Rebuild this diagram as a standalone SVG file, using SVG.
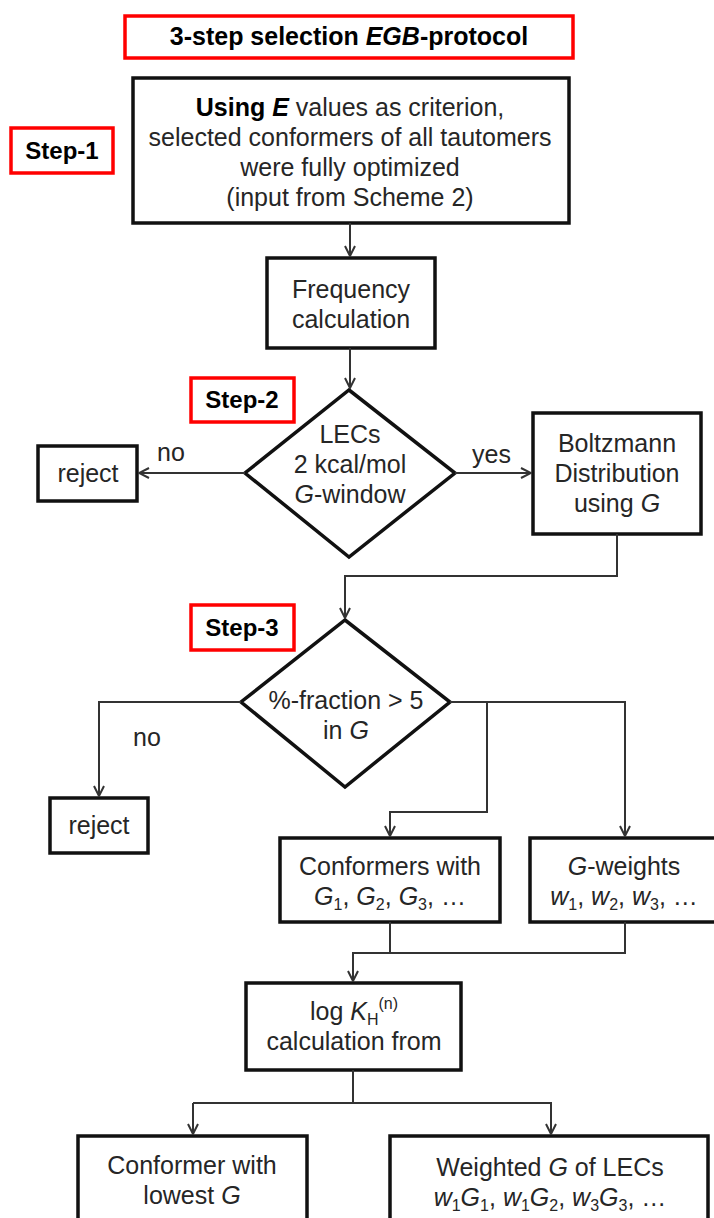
<svg xmlns="http://www.w3.org/2000/svg" width="714" height="1218" viewBox="0 0 714 1218">
  <defs>
    <marker id="arr" viewBox="0 0 12 12" markerWidth="12" markerHeight="12" refX="11" refY="6" orient="auto" markerUnits="userSpaceOnUse">
      <path d="M1,1 L11,6 L1,11" fill="none" stroke="#333" stroke-width="2"/>
    </marker>
  </defs>
  <style>
    .box{fill:#fff;stroke:#111;stroke-width:3.5}
    .red{fill:#fff;stroke:#f00;stroke-width:3.5}
    .t{font-family:"Liberation Sans",Arial,sans-serif;font-size:25px;fill:#262626;text-anchor:middle}
    .b{font-weight:bold;fill:#000}
    .s{font-family:"Liberation Sans",Arial,sans-serif;font-size:24px;font-weight:bold;fill:#000;text-anchor:middle}
    .lbl{font-family:"Liberation Sans",Arial,sans-serif;font-size:25px;fill:#262626}
    .c{fill:none;stroke:#333;stroke-width:2}
    .i{font-style:italic}
  </style>

  <g id="title">
    <rect class="red" x="125" y="16" width="448" height="42"/>
    <text class="t b" x="349" y="45">3-step selection <tspan class="i">EGB</tspan>-protocol</text>
  </g>

  <g id="step1">
    <rect class="red" x="11" y="128" width="102" height="45"/>
    <text class="s" x="62" y="159">Step-1</text>
  </g>

  <g id="optimize">
    <rect class="box" x="133" y="78" width="436" height="145"/>
    <text class="t" x="350" y="116"><tspan class="b">Using <tspan class="i">E</tspan></tspan> values as criterion,</text>
    <text class="t" x="350" y="146">selected conformers of all tautomers</text>
    <text class="t" x="350" y="176">were fully optimized</text>
    <text class="t" x="350" y="206">(input from Scheme 2)</text>
  </g>

  <g id="frequency">
    <rect class="box" x="267" y="258" width="168" height="90"/>
    <text class="t" x="351" y="298">Frequency</text>
    <text class="t" x="351" y="328">calculation</text>
  </g>

  <g id="step2">
    <rect class="red" x="191" y="378" width="103" height="44"/>
    <text class="s" x="242" y="408">Step-2</text>
  </g>

  <g id="decision1">
    <polygon class="box" points="349,390 455,473 349,557 245,473"/>
    <text class="t" x="350" y="443">LECs</text>
    <text class="t" x="350" y="473">2 kcal/mol</text>
    <text class="t" x="350" y="503"><tspan class="i">G</tspan>-window</text>
  </g>

  <g id="reject1">
    <rect class="box" x="38" y="446" width="99" height="55"/>
    <text class="t" x="88" y="482">reject</text>
  </g>

  <g id="boltzmann">
    <rect class="box" x="533" y="413" width="168" height="121"/>
    <text class="t" x="617" y="452">Boltzmann</text>
    <text class="t" x="617" y="482">Distribution</text>
    <text class="t" x="617" y="512">using <tspan class="i">G</tspan></text>
  </g>

  <g id="step3">
    <rect class="red" x="191" y="605" width="103" height="45"/>
    <text class="s" x="242" y="636">Step-3</text>
  </g>

  <g id="decision2">
    <polygon class="box" points="345,620 450,702 345,787 241,702"/>
    <text class="t" x="346" y="709">%-fraction &gt; 5</text>
    <text class="t" x="346" y="739">in <tspan class="i">G</tspan></text>
  </g>

  <g id="reject2">
    <rect class="box" x="50" y="798" width="98" height="55"/>
    <text class="t" x="99" y="834">reject</text>
  </g>

  <g id="conformers">
    <rect class="box" x="280" y="838" width="220" height="84"/>
    <text class="t" x="390" y="875">Conformers with</text>
    <text class="t" x="390" y="905"><tspan class="i">G</tspan><tspan font-size="16" dy="5">1</tspan><tspan dy="-5">, </tspan><tspan class="i">G</tspan><tspan font-size="16" dy="5">2</tspan><tspan dy="-5">, </tspan><tspan class="i">G</tspan><tspan font-size="16" dy="5">3</tspan><tspan dy="-5">, …</tspan></text>
  </g>

  <g id="gweights">
    <rect class="box" x="530" y="838" width="190" height="84"/>
    <text class="t" x="624" y="875"><tspan class="i">G</tspan>-weights</text>
    <text class="t" x="624" y="905"><tspan class="i">w</tspan><tspan font-size="16" dy="5">1</tspan><tspan dy="-5">, </tspan><tspan class="i">w</tspan><tspan font-size="16" dy="5">2</tspan><tspan dy="-5">, </tspan><tspan class="i">w</tspan><tspan font-size="16" dy="5">3</tspan><tspan dy="-5">, …</tspan></text>
  </g>

  <g id="logk">
    <rect class="box" x="246" y="983" width="215" height="87"/>
    <text class="t" x="354" y="1020">log <tspan class="i">K</tspan><tspan font-size="16" dy="5">H</tspan><tspan font-size="16" dy="-16">(n)</tspan></text>
    <text class="t" x="354" y="1050">calculation from</text>
  </g>

  <g id="lowest">
    <rect class="box" x="78" y="1136" width="229" height="100"/>
    <text class="t" x="192" y="1174">Conformer with</text>
    <text class="t" x="192" y="1204">lowest <tspan class="i">G</tspan></text>
  </g>

  <g id="weighted">
    <rect class="box" x="390" y="1136" width="318" height="100"/>
    <text class="t" x="550" y="1176">Weighted <tspan class="i">G</tspan> of LECs</text>
    <text class="t" x="550" y="1206"><tspan class="i">w</tspan><tspan font-size="16" dy="5">1</tspan><tspan class="i" dy="-5">G</tspan><tspan font-size="16" dy="5">1</tspan><tspan dy="-5">,  </tspan><tspan class="i">w</tspan><tspan font-size="16" dy="5">1</tspan><tspan class="i" dy="-5">G</tspan><tspan font-size="16" dy="5">2</tspan><tspan dy="-5">,  </tspan><tspan class="i">w</tspan><tspan font-size="16" dy="5">3</tspan><tspan class="i" dy="-5">G</tspan><tspan font-size="16" dy="5">3</tspan><tspan dy="-5">,  …</tspan></text>
  </g>

  <g id="connectors">
    <path class="c" d="M350,223 V256" marker-end="url(#arr)"/>
    <path class="c" d="M350,348 V388" marker-end="url(#arr)"/>
    <path class="c" d="M245,473 H139" marker-end="url(#arr)"/>
    <path class="c" d="M455,473 H531" marker-end="url(#arr)"/>
    <path class="c" d="M617,534 V576 H345 V618" marker-end="url(#arr)"/>
    <path class="c" d="M241,702 H99 V796" marker-end="url(#arr)"/>
    <path class="c" d="M450,702 H625 V836" marker-end="url(#arr)"/>
    <path class="c" d="M487,702 V812 H390 V836" marker-end="url(#arr)"/>
    <path class="c" d="M390,922 V953"/>
    <path class="c" d="M625,922 V953 H353 V981" marker-end="url(#arr)"/>
    <path class="c" d="M353,1070 V1103"/>
    <path class="c" d="M193,1103 H551 V1134" marker-end="url(#arr)"/>
    <path class="c" d="M193,1103 V1134" marker-end="url(#arr)"/>
    <text class="lbl" x="157" y="461">no</text>
    <text class="lbl" x="472" y="463">yes</text>
    <text class="lbl" x="133" y="746">no</text>
  </g>
</svg>
